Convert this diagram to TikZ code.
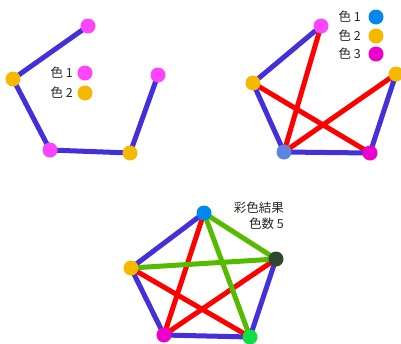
\documentclass[tikz,border=0pt]{standalone}
\usepackage{fontspec}
\setmainfont{Noto Sans CJK JP}
\definecolor{eblue}{HTML}{4430D8}
\definecolor{ered}{HTML}{FF0000}
\definecolor{egreen}{HTML}{55BB00}
\definecolor{cmag}{HTML}{FF44FF}
\definecolor{cmagd}{HTML}{EE00CC}
\definecolor{corange}{HTML}{F6B800}
\definecolor{cblue}{HTML}{0088EE}
\definecolor{cblue2}{HTML}{5B85E0}
\definecolor{cdark}{HTML}{2F462F}
\definecolor{cgreen}{HTML}{11DD44}
\tikzset{
  dot/.style={circle,inner sep=0pt,minimum size=15pt,fill=#1},
  eb/.style={draw=eblue,line width=5pt},
  er/.style={draw=ered,line width=5pt},
  eg/.style={draw=egreen,line width=5pt},
  lab/.style={font=\fontsize{12.5}{15}\selectfont,inner sep=0pt,anchor=east,text=black!85}
}
\begin{document}
\begin{tikzpicture}[x=1pt,y=-1pt]
\useasboundingbox (0,0) rectangle (401,343);
% panel 1
\coordinate (a1) at (88,26);
\coordinate (b1) at (13,79);
\coordinate (c1) at (50,150);
\coordinate (d1) at (130,153);
\coordinate (e1) at (158,75);
\draw[eb] (a1) -- (b1) -- (c1) -- (d1) -- (e1);
\node[dot=cmag] (na1) at (a1) {};
\node[dot=corange] (nb1) at (b1) {};
\node[dot=cmag] (nc1) at (c1) {};
\node[dot=corange] (nd1) at (d1) {};
\node[dot=cmag] (ne1) at (e1) {};
\node[lab] (l11) at (73,73) {色 1};
\node[dot=cmag] (k11) at (85,73) {};
\node[lab] (l12) at (73,93) {色 2};
\node[dot=corange] (k12) at (85,93) {};
% panel 2
\coordinate (a2) at (321,26);
\coordinate (b2) at (253,83);
\coordinate (c2) at (284,152);
\coordinate (d2) at (370,153);
\coordinate (e2) at (396,74);
\draw[er] (a2) -- (c2);
\draw[er] (b2) -- (d2);
\draw[er] (c2) -- (e2);
\draw[eb] (a2) -- (b2) -- (c2) -- (d2) -- (e2);
\node[dot=cmag] (na2) at (a2) {};
\node[dot=corange] (nb2) at (b2) {};
\node[dot=cblue2] (nc2) at (c2) {};
\node[dot=cmagd] (nd2) at (d2) {};
\node[dot=corange] (ne2) at (e2) {};
\node[lab] (l21) at (361,17) {色 1};
\node[dot=cblue] (k21) at (376,17) {};
\node[lab] (l22) at (361,36) {色 2};
\node[dot=corange] (k22) at (376,36) {};
\node[lab] (l23) at (361,54) {色 3};
\node[dot=cmagd] (k23) at (376,54) {};
% panel 3
\coordinate (a3) at (204,213);
\coordinate (b3) at (131,268);
\coordinate (c3) at (164,335);
\coordinate (d3) at (250,337);
\coordinate (e3) at (276,259);
\draw[er] (a3) -- (c3);
\draw[er] (b3) -- (d3);
\draw[er] (c3) -- (e3);
\draw[eg] (a3) -- (e3);
\draw[eg] (b3) -- (e3);
\draw[eg] (a3) -- (d3);
\draw[eb] (a3) -- (b3) -- (c3) -- (d3) -- (e3);
\node[dot=cblue] (na3) at (a3) {};
\node[dot=corange] (nb3) at (b3) {};
\node[dot=cmagd] (nc3) at (c3) {};
\node[dot=cgreen] (nd3) at (d3) {};
\node[dot=cdark] (ne3) at (e3) {};
\node[lab] (t1) at (284,208) {彩色結果};
\node[lab] (t2) at (284,224) {色数 5};
\end{tikzpicture}
\end{document}
